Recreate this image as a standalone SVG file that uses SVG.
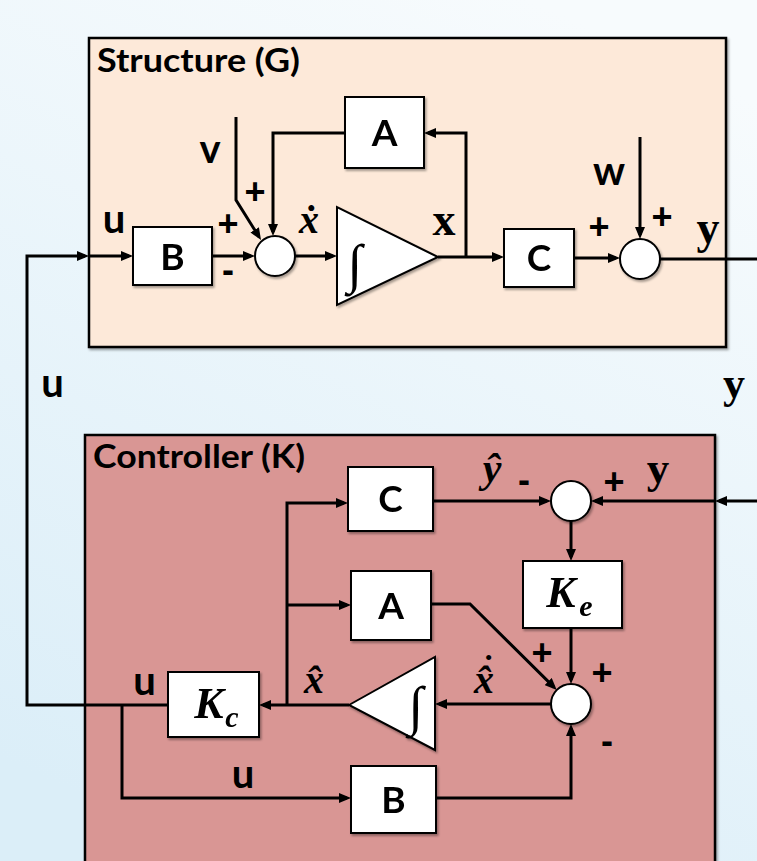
<svg xmlns="http://www.w3.org/2000/svg" width="757" height="861" viewBox="0 0 757 861">
<defs>
<linearGradient id="bg" x1="0.7" y1="0" x2="0.3" y2="1">
<stop offset="0" stop-color="#f7fbfd"/>
<stop offset="1" stop-color="#dbeef8"/>
</linearGradient>
<filter id="sh" x="-10%" y="-10%" width="130%" height="130%">
<feDropShadow dx="1.5" dy="2" stdDeviation="1.2" flood-color="#000" flood-opacity="0.35"/>
</filter>
<marker id="ah" markerWidth="12" markerHeight="10" refX="8" refY="5" orient="auto" markerUnits="userSpaceOnUse">
<path d="M0,0 L12,5 L0,10 z" fill="#000"/>
</marker>
<style>
.frame{stroke:#000;stroke-width:2.5}
.blk{fill:#fff;stroke:#000;stroke-width:2}
.sum{fill:#fff;stroke:#000;stroke-width:2}
.w{fill:none;stroke:#000;stroke-width:3}
.a{marker-end:url(#ah)}
.title{font-family:Lato,"Liberation Sans",sans-serif;font-weight:bold;font-size:33px;fill:#000}
.bl{font-family:Lato,"Liberation Sans",sans-serif;font-weight:bold;font-size:37px;fill:#000;text-anchor:middle}
.lb{font-family:Lato,"Liberation Sans",sans-serif;font-weight:bold;font-size:40px;fill:#000;text-anchor:middle}
.pm{font-family:"Liberation Sans",sans-serif;font-weight:bold;font-size:36px;fill:#000;text-anchor:middle}
.sv{font-family:"Liberation Serif","DejaVu Serif",serif;font-weight:bold;fill:#000;text-anchor:middle}
.it{font-family:"Liberation Serif","DejaVu Serif",serif;font-weight:bold;font-style:italic;fill:#000;text-anchor:middle}
.int{font-family:"Liberation Serif","DejaVu Serif",serif;font-size:54px;fill:#000;text-anchor:middle}
</style>
</defs>
<rect x="0" y="0" width="757" height="861" fill="url(#bg)"/>

<g id="structure" filter="url(#sh)">
<rect class="frame" x="89" y="38" width="637" height="309" fill="#fde9d9"/>
</g>
<text class="title" x="97" y="72" textLength="203" lengthAdjust="spacingAndGlyphs">Structure (G)</text>

<g id="controller" filter="url(#sh)">
<rect class="frame" x="85" y="435" width="630" height="440" fill="#d99694"/>
</g>
<text class="title" x="93" y="468" textLength="212" lengthAdjust="spacingAndGlyphs">Controller (K)</text>

<g id="connectors">
<path class="w a" d="M168,705 H27 V256 H85"/>
<path class="w a" d="M89,256 H129"/>
<path class="w a" d="M122,705 V798 H347"/>
<path class="w a" d="M212,256 H251"/>
<path class="w a" d="M295,256 H333"/>
<path class="w a" d="M438,257 H500"/>
<path class="w a" d="M466,257 V133 H428"/>
<path class="w a" d="M345,133 H273 V232"/>
<path class="w a" d="M236,117 V200 L258.9,236.6"/>
<path class="w a" d="M574,258 H616"/>
<path class="w a" d="M640,137 V235"/>
<path class="w" d="M660,259 H757"/>
<path class="w a" d="M757,501 H719"/>
<path class="w a" d="M715,501 H595"/>
<path class="w a" d="M433,501 H547"/>
<path class="w a" d="M349,705 H263"/>
<path class="w a" d="M287,705 V503 H344"/>
<path class="w a" d="M287,605 H347"/>
<path class="w a" d="M571,521 V557"/>
<path class="w a" d="M571,628 V680"/>
<path class="w a" d="M431,604 H470 L553.9,687.1"/>
<path class="w a" d="M551,704 H439"/>
<path class="w a" d="M436,798 H571 V728"/>
</g>

<g id="B_G" filter="url(#sh)">
<rect class="blk" x="133" y="227" width="79" height="58"/>
<text class="bl" x="172.5" y="270">B</text>
</g>
<g id="sum_G1" filter="url(#sh)">
<circle class="sum" cx="275" cy="256" r="20"/>
</g>
<g id="A_G" filter="url(#sh)">
<rect class="blk" x="345" y="97" width="79" height="71"/>
<text class="bl" x="384.5" y="146">A</text>
</g>
<g id="int_G" filter="url(#sh)">
<polygon class="blk" points="337,207 337,305 438,257"/>
<text class="int" x="355" y="282">∫</text>
</g>
<g id="C_G" filter="url(#sh)">
<rect class="blk" x="504" y="229" width="70" height="58"/>
<text class="bl" x="539" y="271">C</text>
</g>
<g id="sum_G2" filter="url(#sh)">
<circle class="sum" cx="640" cy="259" r="20"/>
</g>

<g id="C_K" filter="url(#sh)">
<rect class="blk" x="348" y="467" width="85" height="64"/>
<text class="bl" x="390.5" y="512">C</text>
</g>
<g id="A_K" filter="url(#sh)">
<rect class="blk" x="351" y="571" width="80" height="69"/>
<text class="bl" x="391" y="619">A</text>
</g>
<g id="sum_K1" filter="url(#sh)">
<circle class="sum" cx="571" cy="501" r="20"/>
</g>
<g id="Ke" filter="url(#sh)">
<rect class="blk" x="523" y="561" width="99" height="67"/>
<text class="it" x="561" y="607" font-size="44">K</text>
<text class="it" x="586" y="616" font-size="30">e</text>
</g>
<g id="sum_K2" filter="url(#sh)">
<circle class="sum" cx="571" cy="704" r="20"/>
</g>
<g id="int_K" filter="url(#sh)">
<polygon class="blk" points="349,705 435,657 435,750"/>
<text class="int" x="416" y="724">∫</text>
</g>
<g id="Kc" filter="url(#sh)">
<rect class="blk" x="168" y="672" width="91" height="65"/>
<text class="it" x="209" y="718" font-size="44">K</text>
<text class="it" x="232" y="727" font-size="30">c</text>
</g>
<g id="B_K" filter="url(#sh)">
<rect class="blk" x="351" y="766" width="85" height="67"/>
<text class="bl" x="393.5" y="813">B</text>
</g>

<g id="labels">
<text class="lb" x="114" y="233">u</text>
<text class="lb" x="210" y="163">v</text>
<text class="pm" x="228" y="236">+</text>
<text class="pm" x="228" y="282">-</text>
<text class="pm" x="255" y="204">+</text>
<text class="it" x="309" y="233" font-size="40">ẋ</text>
<text class="sv" x="444" y="235" font-size="46">x</text>
<text class="lb" x="609" y="185">w</text>
<text class="pm" x="599" y="239">+</text>
<text class="pm" x="662" y="229">+</text>
<text class="sv" x="708" y="243" font-size="46">y</text>
<text class="lb" x="52.5" y="397">u</text>
<text class="sv" x="734" y="398" font-size="44">y</text>
<text class="it" x="492" y="482" font-size="42">ŷ</text>
<text class="pm" x="524" y="492">-</text>
<text class="pm" x="614" y="494">+</text>
<text class="sv" x="658" y="483" font-size="45">y</text>
<text class="pm" x="542" y="665">+</text>
<text class="pm" x="602" y="685">+</text>
<text class="pm" x="607" y="753">-</text>
<text class="it" x="314" y="693" font-size="40">x̂</text>
<text class="it" x="474" y="693" font-size="40" text-anchor="start" style="text-anchor:start">x̂<tspan dx="-13" dy="-14" font-size="34">˙</tspan></text>
<text class="lb" x="144.5" y="695">u</text>
<text class="lb" x="243" y="788">u</text>
</g>
</svg>
